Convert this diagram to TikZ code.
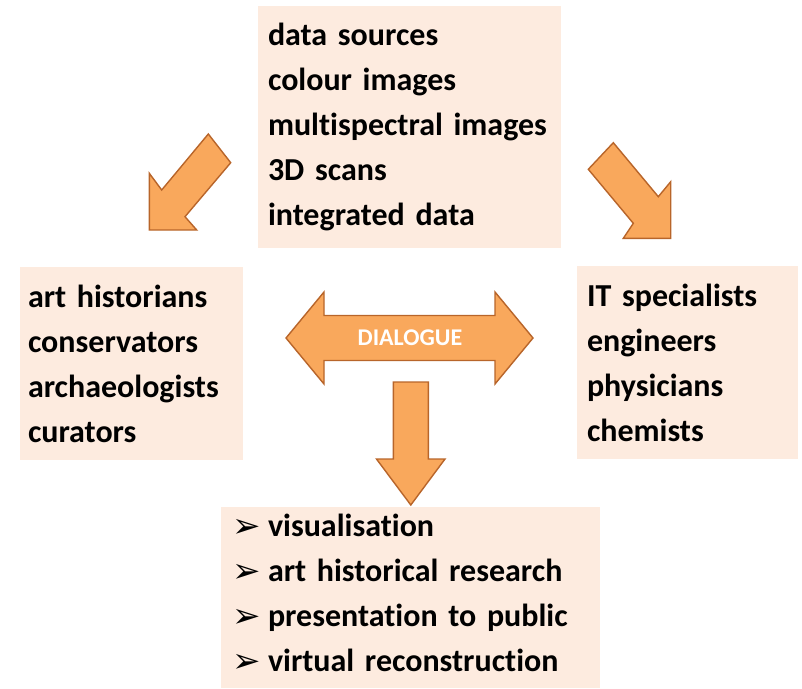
\documentclass[tikz,border=0pt]{standalone}
\usepackage{fontspec}
\setmainfont{Carlito}[Ligatures=NoCommon]
\newfontfamily\dingfont{DejaVu Sans}
\definecolor{boxfill}{HTML}{FDEBDF}
\definecolor{arrowfill}{HTML}{F9A85C}
\definecolor{arrowline}{HTML}{B8652A}
\tikzset{
  infobox/.style={rectangle, fill=boxfill, align=left, anchor=center,
    font=\bfseries\fontsize{32}{45}\selectfont, inner ysep=0pt},
  blockarrow/.style={fill=arrowfill, draw=arrowline, line width=1.4pt, line join=miter},
}
\newcommand{\bulletmark}{\makebox[36pt][l]{\dingfont\fontsize{34}{34}\selectfont\raisebox{-1pt}{➢}}}
\begin{document}
\begin{tikzpicture}[x=1pt, y=-1pt]
  \useasboundingbox (0,0) rectangle (802,688);

  % information boxes
  \node[infobox, minimum height=242pt, text width=283pt, inner xsep=10pt] (sources) at (409.5,127)
    {data sources\\colour images\\multispectral images\\3D scans\\integrated data};
  \node[infobox, minimum height=193pt, text width=207pt, inner xsep=8pt] (humanities) at (131.5,363.5)
    {art historians\\conservators\\archaeologists\\curators};
  \node[infobox, minimum height=193pt, text width=201pt, inner xsep=10pt] (sciences) at (687.5,362.5)
    {IT specialists\\engineers\\physicians\\chemists};
  \node[infobox, minimum height=181pt, text width=357pt, inner xsep=11pt] (outcomes) at (410.5,597.5)
    {\bulletmark visualisation\\\bulletmark art historical research\\\bulletmark presentation to public\\%
     \raisebox{0pt}[\height][\dimexpr\depth+8pt\relax]{\bulletmark virtual reconstruction}};

  % arrow from the data sources down to the humanities side
  \draw[blockarrow] (149.3,230) -- (149.3,173.3) -- (161.7,190) -- (208.3,134)
    -- (230.7,162.7) -- (185,216.7) -- (196.7,230) -- cycle;
  % arrow from the data sources down to the sciences side
  \draw[blockarrow] (670.7,238.3) -- (623.3,238.3) -- (633.3,223.3) -- (588.3,169.3)
    -- (613.3,142.7) -- (658.3,196.7) -- (670.7,181.7) -- cycle;
  % two-headed dialogue arrow
  \draw[blockarrow] (286,338) -- (324,292) -- (324,315.5) -- (495,315.5) -- (495,292)
    -- (533,338) -- (495,384) -- (495,360.5) -- (324,360.5) -- (324,384) -- cycle;
  \node[font=\bfseries\fontsize{24}{24}\selectfont, text=white] (dialogue) at (410,338) {DIALOGUE};
  % arrow down to the outcomes
  \draw[blockarrow] (393.3,382) -- (428.3,382) -- (428.3,459) -- (445,459) -- (410.8,505)
    -- (376.5,459) -- (393.3,459) -- cycle;
\end{tikzpicture}
\end{document}
